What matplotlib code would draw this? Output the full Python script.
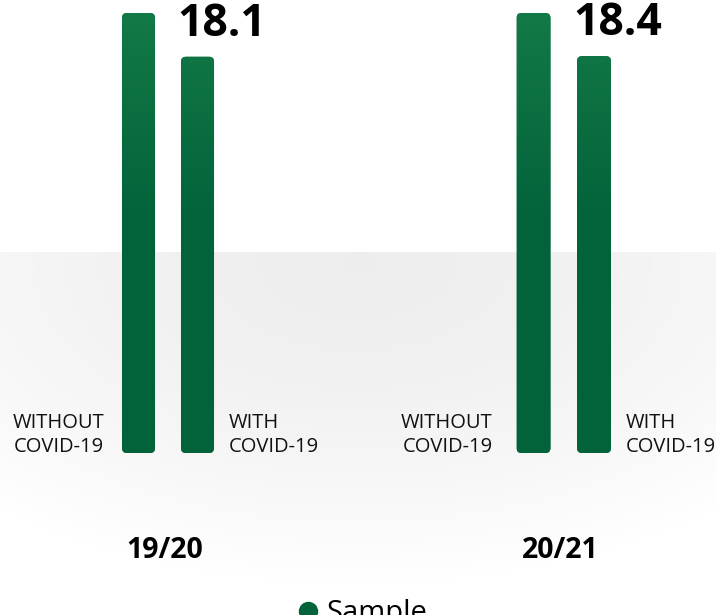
import numpy as np
import matplotlib
matplotlib.use("Agg")
import matplotlib.pyplot as plt
from matplotlib.patches import FancyBboxPatch
from matplotlib.colors import LinearSegmentedColormap
from matplotlib.lines import Line2D

plt.rcParams['font.family'] = ['Open Sans', 'DejaVu Sans']

# ---- data ----
seasons = ["19/20", "20/21"]
bar_labels = ["WITHOUT\nCOVID-19", "WITH\nCOVID-19"]
without_covid = [20.1, 20.4]
with_covid = [18.1, 18.4]
legend_label = "Sample"

GREEN = "#03643b"
W, H = 716, 615
fig = plt.figure(figsize=(W / 100, H / 100), dpi=100)

# ---- background: white top, soft grey radial band below ----
bg = fig.add_axes([0, 0, 1, 1], zorder=0)
yy, xx = np.mgrid[0:H, 0:W]
cx, cy, rx, ry = 358, 262, 560, 320
t = np.sqrt(((xx - cx) / rx) ** 2 + ((yy - cy) / ry) ** 2)
t = np.clip(t, 0, 1)
g = 0.933 + (1 - 0.933) * t ** 1.6
g[yy < 252] = 1.0
img = np.dstack([g, g, g])
bg.imshow(img, extent=[0, W, H, 0], aspect='auto', interpolation='bilinear')
bg.set_xlim(0, W)
bg.set_ylim(H, 0)
bg.axis('off')

cmap = LinearSegmentedColormap.from_list(
    "g", [(0.0, "#02623a"), (0.55, "#03643b"), (1.0, "#137946")])

bottom_px, top_px = 453, 13
panels = [(109, 118), (503.25, 121)]  # left px, width px
left_gap = [-18, -24]
bar_w = 0.56
rad_px = 5

for i, season in enumerate(seasons):
    left, width = panels[i]
    ax = fig.add_axes([left / W, (H - bottom_px) / H, width / W,
                       (bottom_px - top_px) / H], zorder=2)
    vals = [without_covid[i], with_covid[i]]
    ymax = max(vals)
    ax.set_xlim(-0.5, 1.5)
    ax.set_ylim(0, ymax)
    ax.axis('off')
    px_per_x = width / 2.0
    px_per_y = (bottom_px - top_px) / ymax
    rx_data = rad_px / px_per_x
    aspect = (1 / px_per_y) / (1 / px_per_x)
    for j, v in enumerate(vals):
        patch = FancyBboxPatch((j - bar_w / 2, 0), bar_w, v,
                               boxstyle=f"round,pad=0,rounding_size={rx_data}",
                               mutation_aspect=aspect, facecolor=GREEN,
                               edgecolor='none', zorder=2)
        ax.add_patch(patch)
        grad = np.linspace(0, 1, 256).reshape(-1, 1)
        im = ax.imshow(grad, extent=[j - bar_w / 2, j + bar_w / 2, 0, ymax],
                       origin='lower', cmap=cmap, aspect='auto', zorder=3,
                       vmin=0, vmax=1)
        im.set_clip_path(patch)
    ax.set_xlim(-0.5, 1.5)
    ax.set_ylim(0, ymax)

    # bar side labels
    ax.annotate(bar_labels[0], xy=(0 - bar_w / 2, 0), xytext=(left_gap[i], 1),
                textcoords='offset pixels', ha='right', va='baseline',
                fontsize=14.5, linespacing=1.3, color='#111111',
                annotation_clip=False)
    ax.annotate(bar_labels[1], xy=(1 + bar_w / 2, 0), xytext=(15, 1),
                textcoords='offset pixels', ha='left', va='baseline',
                fontsize=14.5, linespacing=1.3, color='#111111',
                annotation_clip=False)
    # value label for "with" bar
    ax.annotate(f"{with_covid[i]}", xy=(1 - bar_w / 2, with_covid[i]),
                xytext=(-4, 21), textcoords='offset pixels', ha='left',
                va='baseline', fontsize=32, fontweight='bold', color='black',
                annotation_clip=False)
    # season label
    ax.annotate(season, xy=(0.5, 0), xytext=(-3, -105),
                textcoords='offset pixels', ha='center', va='baseline',
                fontsize=20.5, fontweight='bold', color='black',
                annotation_clip=False)

handle = Line2D([0], [0], marker='o', color='none', markerfacecolor=GREEN,
                markeredgecolor='none', markersize=14)
fig.legend(handles=[handle], labels=[legend_label], loc='upper left',
           bbox_to_anchor=(293 / W, 1 - 599 / H), frameon=False, fontsize=21,
           handletextpad=0.15, handlelength=1.0, borderpad=0, borderaxespad=0)

fig.savefig("out.png", dpi=100)
